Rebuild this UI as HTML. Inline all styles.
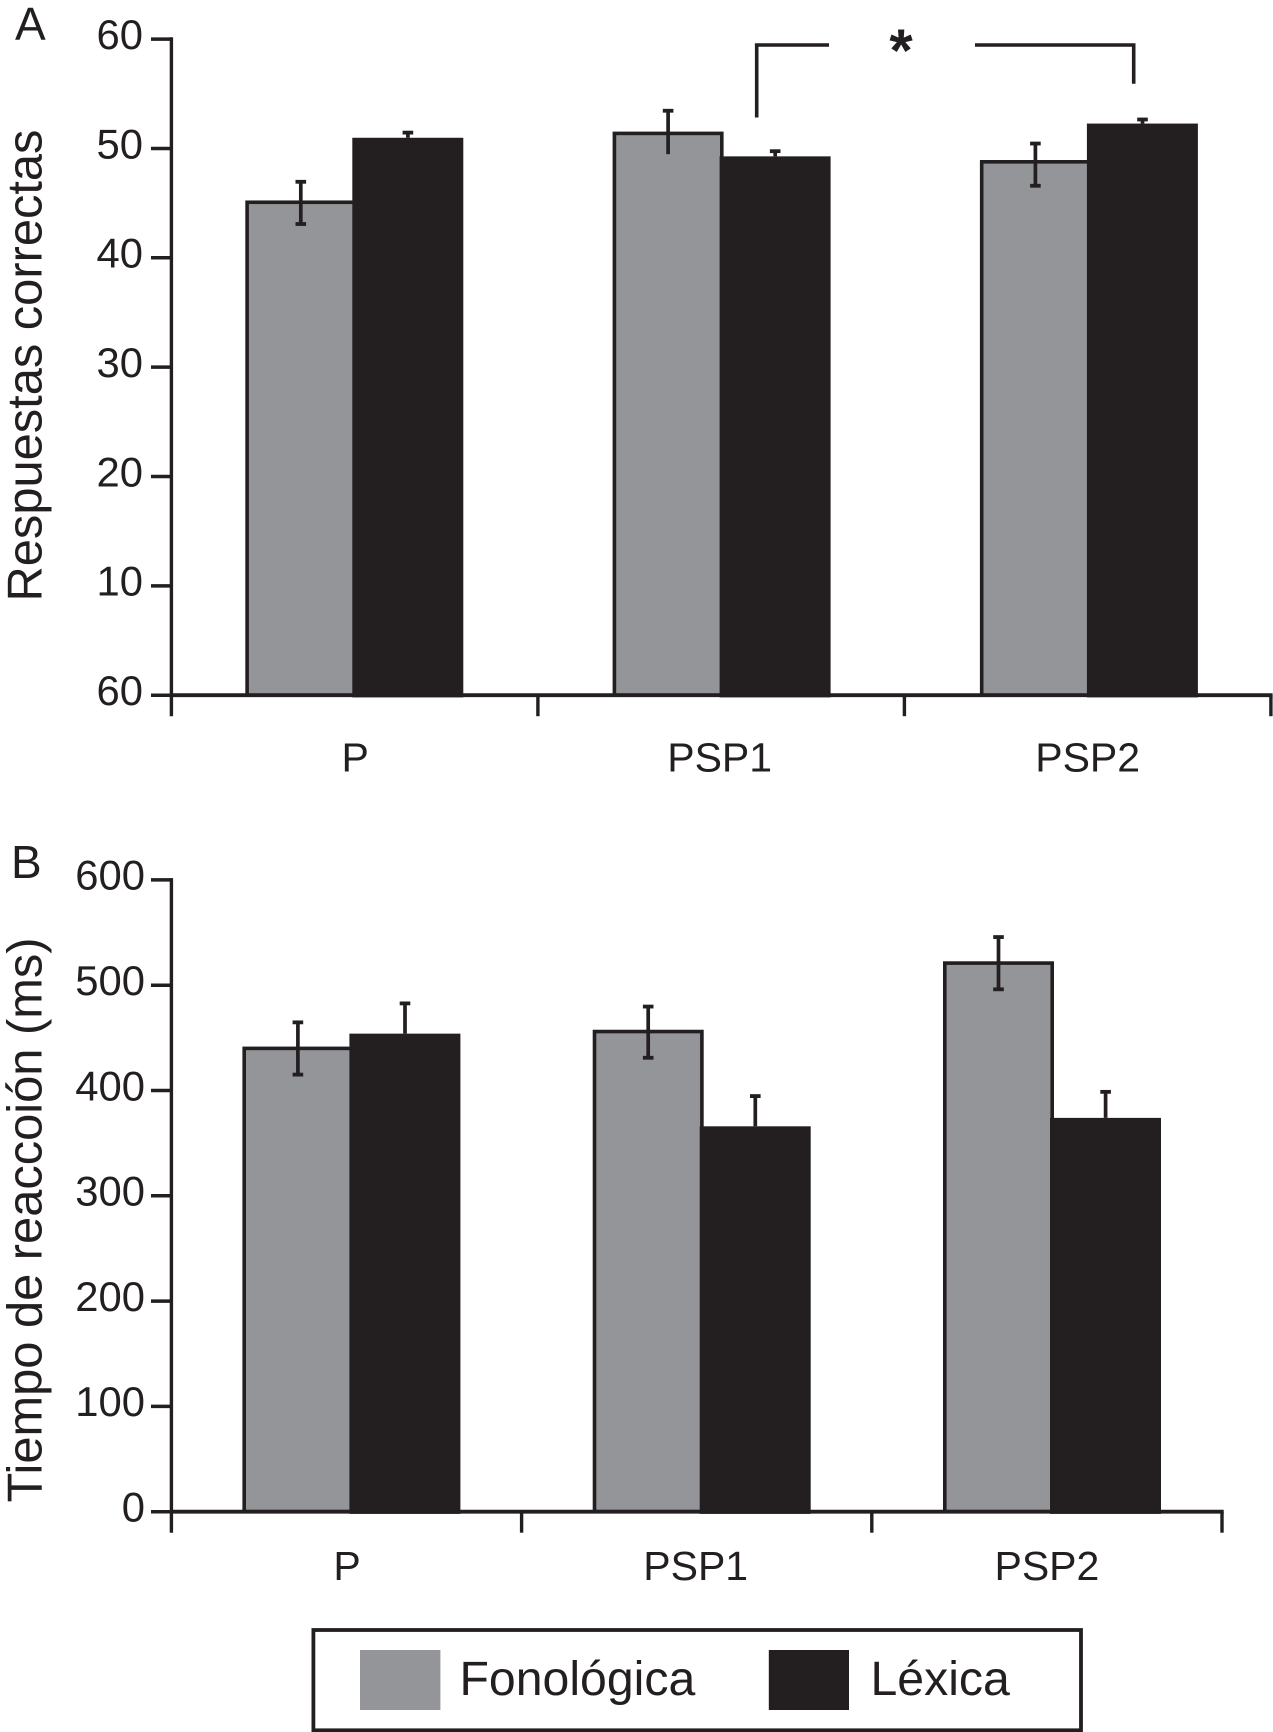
<!DOCTYPE html>
<html lang="es">
<head>
<meta charset="utf-8">
<title>Respuestas correctas y tiempo de reacción</title>
<style>
  html, body { margin: 0; padding: 0; background: #fff; }
  svg { display: block; }
  text { font-family: "Liberation Sans", Arial, sans-serif; fill: #231f20; }
</style>
</head>
<body>
<svg id="figure" xmlns="http://www.w3.org/2000/svg" width="1273" height="1732" viewBox="0 0 1273 1732">
  <rect x="0" y="0" width="1273" height="1732" fill="#ffffff"/>
  <text x="15" y="40" font-size="46">A</text>
  <text x="11" y="878" font-size="46">B</text>
  <text transform="translate(41.5 365.5) rotate(-90)" text-anchor="middle" font-size="48.8">Respuestas correctas</text>
  <text transform="translate(41.5 1220) rotate(-90)" text-anchor="middle" font-size="48.8">Tiempo de reaccoión (ms)</text>
  <g id="panelA"></g>
  <g id="panelB"></g>
  <g fill="none" stroke="#231f20" stroke-width="3.6">
    <path d="M756.7 117.5V45H829"/>
    <path d="M975 45H1133.7V83.7"/>
  </g>
  <text x="901" y="71" text-anchor="middle" font-size="60" font-weight="bold">*</text>
  <g>
    <rect x="313.4" y="1630" width="767.6" height="100.3" fill="#ffffff" stroke="#231f20" stroke-width="3.8"/>
    <rect x="360" y="1650" width="80.4" height="60" fill="#939598"/>
    <text x="459.5" y="1695" font-size="48.2">Fonológica</text>
    <rect x="768.8" y="1650" width="80.2" height="60" fill="#231f20"/>
    <text x="870.5" y="1695" font-size="48.2">Léxica</text>
  </g>
</svg>
<script>
// Shared categories
const categories = ['P', 'PSP1', 'PSP2'];

// Panel A: values
const aTickLabels = ['60', '10', '20', '30', '40', '50', '60'];
const aFonologica = [45.1, 51.4, 48.8];
const aLexica = [51.0, 49.3, 52.3];
const aFonologicaHigh = [47.0, 53.5, 50.5];
const aFonologicaLow = [43.1, 49.5, 46.6];
const aFonologicaLowCap = [true, false, true];
const aLexicaHigh = [51.5, 49.8, 52.7];

// Panel B: values
const bTickLabels = ['0', '100', '200', '300', '400', '500', '600'];
const bFonologica = [440, 456, 521];
const bLexica = [454, 366, 374];
const bFonologicaHigh = [465, 480, 546];
const bFonologicaLow = [415, 431, 496];
const bFonologicaLowCap = [true, true, true];
const bLexicaHigh = [483, 395, 399];

const INK = '#231f20';
const GRAY = '#939598';
const SVG_NS = 'http://www.w3.org/2000/svg';

function make(parent, tag, attrs) {
  const el = document.createElementNS(SVG_NS, tag);
  for (const k in attrs) el.setAttribute(k, attrs[k]);
  parent.appendChild(el);
  return el;
}

function drawPanel(group, cfg) {
  const yScale = function (v) { return cfg.y0 - (v - cfg.vMin) * cfg.pxPerUnit; };
  const xTick = function (i) { return cfg.axisX + i * cfg.tickStep; };
  const barLeft = function (i) { return cfg.firstBar + i * cfg.barStep; };
  const baseY = cfg.y0;
  const topY = cfg.y0 - cfg.tickGap * (cfg.ticks.length - 1);

  // Bars
  categories.forEach(function (cat, i) {
    const left = barLeft(i);
    const fy = yScale(cfg.fon[i]);
    const gray = make(group, 'rect', {
      x: left + 1.8, y: fy, width: 107.4, height: baseY - fy,
      fill: GRAY, stroke: INK, 'stroke-width': 3.6
    });
    
    

    const ly = yScale(cfg.lex[i]);
    const dark = make(group, 'rect', {
      x: left + 107, y: ly, width: 111, height: baseY + 2.2 - ly, fill: INK
    });
    
    
  });

  // Error bars
  categories.forEach(function (cat, i) {
    const left = barLeft(i);
    const fx = left + 55.5;
    const fHi = yScale(cfg.fonHigh[i]);
    const fLo = yScale(cfg.fonLow[i]);
    const fStem = make(group, 'line', { x1: fx, x2: fx, y1: fHi, y2: fLo, stroke: INK, 'stroke-width': 3.7 });
    
    
    const fCapTop = make(group, 'rect', { x: fx - 5.3, y: fHi - 1.6, width: 10.6, height: 3.8, fill: INK });
    
    
    if (cfg.fonLowCap[i]) {
      const fCapLow = make(group, 'rect', { x: fx - 5.3, y: fLo - 2, width: 10.6, height: 3.8, fill: INK });
      
      
    }

    const lx = left + 162.6;
    const lHi = yScale(cfg.lexHigh[i]);
    const lStem = make(group, 'line', { x1: lx, x2: lx, y1: lHi, y2: yScale(cfg.lex[i]), stroke: INK, 'stroke-width': 3.7 });
    
    
    const lCap = make(group, 'rect', { x: lx - 5.3, y: lHi - 1.6, width: 10.6, height: 3.8, fill: INK });
    
    
  });

  // Y axis
  const yAxis = make(group, 'line', { x1: cfg.axisX, x2: cfg.axisX, y1: topY - 1.8, y2: baseY + cfg.tickLen, stroke: INK, 'stroke-width': 3.4 });
  
  

  cfg.ticks.forEach(function (label, i) {
    const ty = cfg.y0 - cfg.tickGap * i;
    const mark = make(group, 'line', { x1: 151, x2: cfg.axisX, y1: ty, y2: ty, stroke: INK, 'stroke-width': 3.5 });
    
    
    const txt = make(group, 'text', { x: cfg.labelX, y: ty + 9.8, 'text-anchor': 'end', 'font-size': 41.8 });
    txt.textContent = label;
    
    
  });

  // X axis
  const xAxis = make(group, 'line', { x1: cfg.axisX, x2: xTick(categories.length) + 1.7, y1: baseY, y2: baseY, stroke: INK, 'stroke-width': 3.8 });
  
  

  for (let i = 1; i <= categories.length; i++) {
    const mark = make(group, 'line', { x1: xTick(i), x2: xTick(i), y1: baseY, y2: baseY + cfg.tickLen, stroke: INK, 'stroke-width': 3.4 });
    
    
  }

  categories.forEach(function (cat, i) {
    const txt = make(group, 'text', {
      x: xTick(i) + cfg.tickStep / 2 + cfg.labelShift[i], y: cfg.labelY, 'text-anchor': 'middle', 'font-size': 41
    });
    txt.textContent = cat;
    
    
  });
}

drawPanel(document.getElementById('panelA'), {
  ticks: aTickLabels, fon: aFonologica, lex: aLexica,
  fonHigh: aFonologicaHigh, fonLow: aFonologicaLow, fonLowCap: aFonologicaLowCap, lexHigh: aLexicaHigh,
  vMin: 0, pxPerUnit: 10.93, y0: 695.2, tickGap: 109.35,
  axisX: 171.4, tickStep: 366.5, firstBar: 245.3, barStep: 367.3,
  tickLen: 21, labelX: 143, labelY: 771.5, labelShift: [0.5, -1.5, 0]
});

drawPanel(document.getElementById('panelB'), {
  ticks: bTickLabels, fon: bFonologica, lex: bLexica,
  fonHigh: bFonologicaHigh, fonLow: bFonologicaLow, fonLowCap: bFonologicaLowCap, lexHigh: bLexicaHigh,
  vMin: 0, pxPerUnit: 1.053, y0: 1511.7, tickGap: 105.3,
  axisX: 171.4, tickStep: 350.2, firstBar: 242.4, barStep: 350.3,
  tickLen: 21, labelX: 145, labelY: 1580, labelShift: [0.5, -1, 0]
});
</script>
</body>
</html>
